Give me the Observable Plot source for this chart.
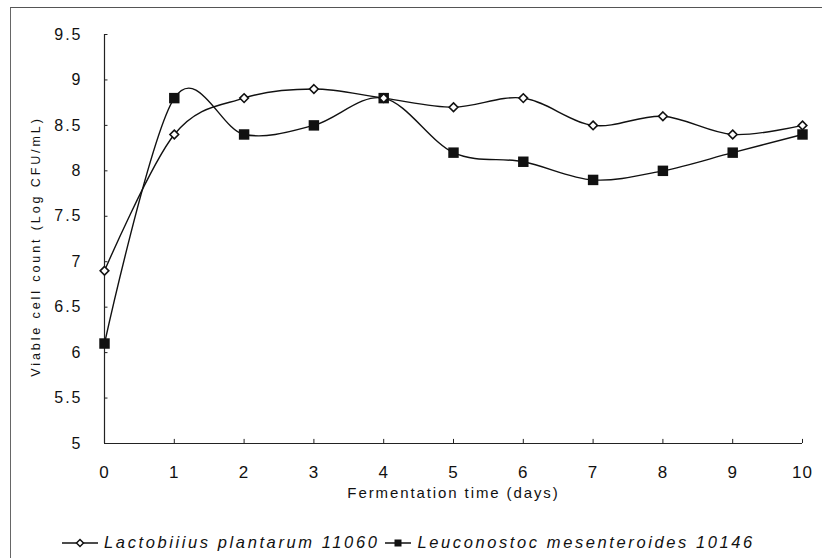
<!DOCTYPE html>
<html>
<head>
<meta charset="utf-8">
<script src="https://cdn.jsdelivr.net/npm/d3@7"></script>
<script src="https://cdn.jsdelivr.net/npm/@observablehq/plot@0.6"></script>
<style>
  html, body { margin: 0; padding: 0; background: #fff; }
  #wrap { position: relative; width: 823px; height: 558px; overflow: hidden; font-family: "Liberation Sans", Arial, sans-serif; }
  #frame { position: absolute; left: 10px; top: 7px; width: 812px; height: 560px; border-left: 1.5px solid #666; border-top: 1.5px solid #555; box-sizing: border-box; }
  #chart { position: absolute; left: 0; top: 0; }
  #legend { position: absolute; left: 0; top: 531px; width: 823px; height: 22px; line-height: 22px; text-align: center; font-style: italic; font-size: 16.5px; letter-spacing: 2.6px; color: #111; white-space: nowrap; }
  #legend svg { vertical-align: -1px; margin-right: 6px; }
  .item { display: inline-block; margin-right: 6px; }
  g[aria-label="y-axis tick label"] text { letter-spacing: 2px; }
  g[aria-label="x-axis tick label"] text { letter-spacing: 1px; }
</style>
</head>
<body>
<div id="wrap">
  <div id="frame"></div>
  <div id="chart"></div>
  <div id="legend"></div>
</div>
<script>
// Fermentation days and viable counts (log CFU/mL) for the two strains
const days = [0, 1, 2, 3, 4, 5, 6, 7, 8, 9, 10];
const plantarum = [6.9, 8.4, 8.8, 8.9, 8.8, 8.7, 8.8, 8.5, 8.6, 8.4, 8.5];
const mesenteroides = [6.1, 8.8, 8.4, 8.5, 8.8, 8.2, 8.1, 7.9, 8.0, 8.2, 8.4];
const seriesNames = ["Lactobiiius plantarum 11060", "Leuconostoc mesenteroides 10146"];
const yTicks = [5, 5.5, 6, 6.5, 7, 7.5, 8, 8.5, 9, 9.5];
const xTicks = days;
const yTitle = "Viable cell count (Log CFU/mL)";
const xTitle = "Fermentation time (days)";

const lp = days.map((d, i) => ({day: d, count: plantarum[i]}));
const lm = days.map((d, i) => ({day: d, count: mesenteroides[i]}));

const chart = Plot.plot({
  width: 823,
  height: 525,
  marginLeft: 104,
  marginRight: 21,
  marginTop: 34,
  marginBottom: 82,
  style: {fontFamily: "'Liberation Sans', Arial, sans-serif", fontSize: "16px", color: "#111", background: "transparent"},
  x: {domain: [0, 10]},
  y: {domain: [5, 9.5]},
  marks: [
    Plot.axisX(xTicks, {tickSize: 0, tickPadding: 22, fontSize: 17, tickFormat: d => String(d), label: null}),
    Plot.axisY(yTicks, {tickSize: 0, tickPadding: 22, fontSize: 16, tickFormat: d => String(d), label: null}),
    // inward tick marks
    Plot.ruleY(yTicks, {x1: 0, x2: 0.05, stroke: "#222", strokeWidth: 1}),
    Plot.ruleX(xTicks, {y1: 5, y2: 5.045, stroke: "#222", strokeWidth: 1}),
    // axis lines
    Plot.ruleX([0], {y1: 5, y2: 9.5, stroke: "#222", strokeWidth: 1.2}),
    Plot.ruleY([5], {x1: 0, x2: 10, stroke: "#222", strokeWidth: 1.2}),
    // axis titles
    Plot.text([yTitle], {frameAnchor: "left", textAnchor: "middle", lineAnchor: "middle", rotate: -90, dx: -69, dy: 7.5, fontSize: 12.5, fill: "#111"}),
    Plot.text([xTitle], {frameAnchor: "bottom", lineAnchor: "middle", dy: 50, fontSize: 15, fill: "#111"}),
    // smoothed series
    Plot.line(lm, {x: "day", y: "count", curve: "cardinal", stroke: "#111", strokeWidth: 1.4}),
    Plot.line(lp, {x: "day", y: "count", curve: "cardinal", stroke: "#111", strokeWidth: 1.4}),
    Plot.dot(lm, {x: "day", y: "count", symbol: "square", r: 5.9, fill: "#111", stroke: "none"}),
    Plot.dot(lp, {x: "day", y: "count", symbol: "diamond2", r: 3.9, fill: "#fff", stroke: "#111", strokeWidth: 1.6})
  ]
});
document.getElementById("chart").appendChild(chart);

// Wider tracking on the axis titles
d3.select(chart).selectAll("text")
  .filter(function () { return this.textContent === yTitle; })
  .style("letter-spacing", "2.9px");
d3.select(chart).selectAll("text")
  .filter(function () { return this.textContent === xTitle; })
  .style("letter-spacing", "1.9px");

// Legend below the plot
const legend = d3.select("#legend");
const marker = (sel, kind) => {
  const w = kind === "diamond" ? 36 : 26;
  const s = sel.append("svg").attr("width", w).attr("height", 12);
  s.append("line").attr("x1", 0).attr("x2", w).attr("y1", 6).attr("y2", 6).attr("stroke", "#111").attr("stroke-width", 1.5);
  if (kind === "diamond") {
    s.append("path").attr("d", `M${w / 2},2.5L${w / 2 + 3.5},6L${w / 2},9.5L${w / 2 - 3.5},6Z`).attr("fill", "#fff").attr("stroke", "#111").attr("stroke-width", 1.5);
  } else {
    s.append("rect").attr("x", w / 2 - 3.5).attr("y", 2.5).attr("width", 7).attr("height", 7).attr("fill", "#111");
  }
};
seriesNames.forEach((name, i) => {
  const item = legend.append("span").attr("class", "item");
  marker(item, i === 0 ? "diamond" : "square");
  item.append("span").text(name);
});
</script>
</body>
</html>
